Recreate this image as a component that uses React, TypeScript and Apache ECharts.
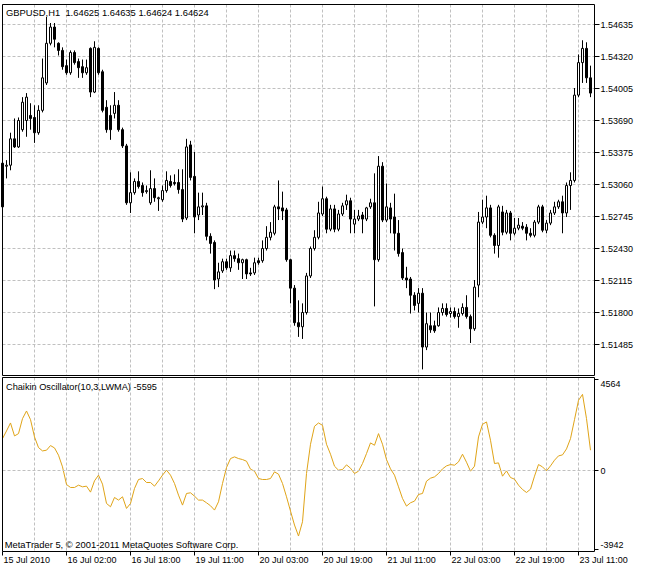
import React, { useEffect, useRef } from 'react';
import * as echarts from 'echarts';

const timeLabels = ['15 Jul 2010', '16 Jul 02:00', '16 Jul 18:00', '19 Jul 11:00', '20 Jul 03:00', '20 Jul 19:00', '21 Jul 11:00', '22 Jul 03:00', '22 Jul 19:00', '23 Jul 11:00'];

const openP = [
  1.5327, 1.5324, 1.5325, 1.5351, 1.5343, 1.5360, 1.5369, 1.5374, 1.5372, 1.5357,
  1.5379, 1.5406, 1.5445, 1.5461, 1.5445, 1.5438, 1.5423, 1.5416, 1.5436, 1.5427,
  1.5422, 1.5416, 1.5440, 1.5397, 1.5440, 1.5417, 1.5382, 1.5374, 1.5376, 1.5384,
  1.5360, 1.5344, 1.5288, 1.5298, 1.5309, 1.5305, 1.5299, 1.5288, 1.5302, 1.5292,
  1.5291, 1.5300, 1.5309, 1.5308, 1.5308, 1.5301, 1.5273, 1.5345, 1.5314, 1.5276,
  1.5284, 1.5285, 1.5255, 1.5249, 1.5213, 1.5221, 1.5230, 1.5224, 1.5236, 1.5233,
  1.5229, 1.5232, 1.5219, 1.5219, 1.5231, 1.5231, 1.5243, 1.5254, 1.5258, 1.5284,
  1.5283, 1.5281, 1.5232, 1.5204, 1.5170, 1.5166, 1.5180, 1.5216, 1.5243, 1.5254,
  1.5277, 1.5292, 1.5262, 1.5282, 1.5262, 1.5277, 1.5286, 1.5290, 1.5267, 1.5272,
  1.5276, 1.5272, 1.5284, 1.5288, 1.5232, 1.5324, 1.5271, 1.5283, 1.5274, 1.5258,
  1.5239, 1.5214, 1.5213, 1.5197, 1.5189, 1.5199, 1.5146, 1.5167, 1.5167, 1.5167,
  1.5180, 1.5184, 1.5179, 1.5181, 1.5176, 1.5179, 1.5185, 1.5176, 1.5164, 1.5207,
  1.5269, 1.5274, 1.5283, 1.5256, 1.5246, 1.5279, 1.5259, 1.5278, 1.5258, 1.5263,
  1.5265, 1.5264, 1.5258, 1.5256, 1.5269, 1.5284, 1.5261, 1.5268, 1.5278, 1.5284,
  1.5289, 1.5278, 1.5305, 1.5310, 1.5394, 1.5426, 1.5440, 1.5411
];
const closeP = [
  1.5284, 1.5325, 1.5351, 1.5343, 1.5369, 1.5387, 1.5392, 1.5371, 1.5357, 1.5379,
  1.5411, 1.5445, 1.5461, 1.5449, 1.5438, 1.5422, 1.5416, 1.5436, 1.5426, 1.5421,
  1.5416, 1.5421, 1.5397, 1.5441, 1.5416, 1.5379, 1.5360, 1.5360, 1.5384, 1.5360,
  1.5344, 1.5288, 1.5298, 1.5309, 1.5304, 1.5298, 1.5300, 1.5302, 1.5293, 1.5293,
  1.5300, 1.5310, 1.5305, 1.5307, 1.5301, 1.5272, 1.5343, 1.5313, 1.5274, 1.5284,
  1.5285, 1.5255, 1.5248, 1.5212, 1.5220, 1.5230, 1.5224, 1.5236, 1.5233, 1.5229,
  1.5232, 1.5218, 1.5218, 1.5229, 1.5229, 1.5243, 1.5254, 1.5259, 1.5284, 1.5282,
  1.5280, 1.5232, 1.5204, 1.5170, 1.5166, 1.5180, 1.5216, 1.5243, 1.5254, 1.5278,
  1.5292, 1.5262, 1.5282, 1.5262, 1.5277, 1.5285, 1.5290, 1.5272, 1.5272, 1.5275,
  1.5272, 1.5283, 1.5288, 1.5232, 1.5324, 1.5271, 1.5284, 1.5272, 1.5258, 1.5238,
  1.5214, 1.5212, 1.5197, 1.5187, 1.5199, 1.5146, 1.5169, 1.5163, 1.5162, 1.5180,
  1.5184, 1.5178, 1.5181, 1.5176, 1.5179, 1.5185, 1.5176, 1.5164, 1.5205, 1.5269,
  1.5274, 1.5283, 1.5256, 1.5246, 1.5284, 1.5259, 1.5278, 1.5258, 1.5263, 1.5266,
  1.5263, 1.5258, 1.5256, 1.5269, 1.5284, 1.5261, 1.5268, 1.5278, 1.5284, 1.5289,
  1.5278, 1.5305, 1.5310, 1.5394, 1.5426, 1.5440, 1.5411, 1.5396
];
const lowP = [
  1.5281, 1.5312, 1.5320, 1.5342, 1.5342, 1.5358, 1.5353, 1.5360, 1.5347, 1.5355,
  1.5377, 1.5404, 1.5443, 1.5441, 1.5433, 1.5419, 1.5414, 1.5414, 1.5424, 1.5411,
  1.5411, 1.5414, 1.5392, 1.5396, 1.5414, 1.5377, 1.5357, 1.5350, 1.5371, 1.5358,
  1.5342, 1.5286, 1.5278, 1.5296, 1.5302, 1.5294, 1.5297, 1.5286, 1.5289, 1.5280,
  1.5289, 1.5298, 1.5303, 1.5305, 1.5297, 1.5269, 1.5271, 1.5310, 1.5258, 1.5271,
  1.5276, 1.5251, 1.5238, 1.5203, 1.5205, 1.5219, 1.5222, 1.5220, 1.5230, 1.5222,
  1.5213, 1.5213, 1.5216, 1.5217, 1.5227, 1.5229, 1.5241, 1.5251, 1.5256, 1.5271,
  1.5271, 1.5230, 1.5189, 1.5167, 1.5156, 1.5154, 1.5178, 1.5214, 1.5241, 1.5252,
  1.5275, 1.5258, 1.5260, 1.5259, 1.5260, 1.5275, 1.5281, 1.5258, 1.5258, 1.5270,
  1.5258, 1.5270, 1.5282, 1.5186, 1.5230, 1.5269, 1.5269, 1.5258, 1.5241, 1.5235,
  1.5212, 1.5204, 1.5179, 1.5182, 1.5180, 1.5124, 1.5143, 1.5160, 1.5160, 1.5166,
  1.5177, 1.5176, 1.5175, 1.5174, 1.5165, 1.5177, 1.5174, 1.5150, 1.5162, 1.5195,
  1.5267, 1.5263, 1.5254, 1.5238, 1.5234, 1.5256, 1.5257, 1.5251, 1.5256, 1.5261,
  1.5261, 1.5251, 1.5254, 1.5254, 1.5267, 1.5259, 1.5258, 1.5266, 1.5276, 1.5282,
  1.5258, 1.5274, 1.5281, 1.5308, 1.5392, 1.5406, 1.5406, 1.5392
];
const highP = [
  1.5330, 1.5330, 1.5357, 1.5371, 1.5372, 1.5392, 1.5396, 1.5386, 1.5384, 1.5384,
  1.5430, 1.5471, 1.5465, 1.5465, 1.5446, 1.5441, 1.5429, 1.5438, 1.5438, 1.5430,
  1.5429, 1.5429, 1.5441, 1.5447, 1.5441, 1.5419, 1.5389, 1.5384, 1.5397, 1.5389,
  1.5362, 1.5346, 1.5318, 1.5312, 1.5319, 1.5308, 1.5305, 1.5320, 1.5312, 1.5294,
  1.5305, 1.5319, 1.5315, 1.5316, 1.5321, 1.5321, 1.5351, 1.5349, 1.5338, 1.5298,
  1.5298, 1.5288, 1.5258, 1.5251, 1.5229, 1.5233, 1.5233, 1.5241, 1.5241, 1.5238,
  1.5233, 1.5233, 1.5224, 1.5234, 1.5234, 1.5251, 1.5265, 1.5269, 1.5286, 1.5310,
  1.5299, 1.5283, 1.5233, 1.5207, 1.5192, 1.5189, 1.5219, 1.5245, 1.5261, 1.5289,
  1.5304, 1.5294, 1.5286, 1.5286, 1.5281, 1.5288, 1.5296, 1.5293, 1.5281, 1.5281,
  1.5279, 1.5284, 1.5292, 1.5317, 1.5334, 1.5328, 1.5307, 1.5288, 1.5297, 1.5271,
  1.5243, 1.5225, 1.5215, 1.5200, 1.5204, 1.5204, 1.5180, 1.5180, 1.5172, 1.5185,
  1.5189, 1.5189, 1.5185, 1.5185, 1.5184, 1.5189, 1.5197, 1.5178, 1.5212, 1.5279,
  1.5291, 1.5295, 1.5286, 1.5258, 1.5286, 1.5285, 1.5281, 1.5280, 1.5273, 1.5273,
  1.5269, 1.5267, 1.5263, 1.5271, 1.5286, 1.5286, 1.5271, 1.5281, 1.5289, 1.5291,
  1.5295, 1.5308, 1.5318, 1.5401, 1.5434, 1.5448, 1.5446, 1.5423
];

const chaikin = [
  1600, 1984, 2384, 1734, 1850, 2601, 2984, 2551, 1684, 1150,
  983, 1017, 1250, 1133, 767, 182, -701, -851, -851, -735,
  -818, -785, -1085, -518, -234, -685, -1652, -1819, -1352, -1484,
  -1318, -1902, -1652, -901, -451, -402, -602, -602, -785, -518,
  -234, 16, -234, -651, -1235, -1735, -1152, -1118, -1285, -1484,
  -1484, -1618, -1768, -1985, -1568, -651, 149, 599, 683, 599,
  549, 466, 66, -34, -402, -451, -451, -402, -68, -184,
  -651, -1318, -2035, -2736, -3286, -2569, -151, 1316, 2217, 2384,
  2267, 1316, 816, 216, 16, 50, 283, 116, -151, -34,
  349, 849, 1384, 1266, 1850, 1316, 549, 82, -234, -818,
  -1402, -1785, -1618, -1535, -1202, -1152, -535, -385, -319, -151,
  82, 232, 299, 265, 432, 816, 416, -34, 216, 1684,
  2317, 2434, 1517, 349, 383, -285, -19, -352, -435, -735,
  -952, -1102, -936, -285, 299, 182, -19, 232, 516, 733,
  783, 1083, 1600, 2551, 3518, 3818, 2601, 1017
];

const priceTicks = [1.51485, 1.518, 1.52115, 1.5243, 1.52745, 1.5306, 1.53375, 1.5369, 1.54005, 1.5432, 1.54635];
const oscTicks = [-3942, 0, 4564];
const headerText = 'GBPUSD,H1  1.64625 1.64635 1.64624 1.64624';
const indicatorText = 'Chaikin Oscillator(10,3,LWMA) -5595';
const copyrightText = 'MetaTrader 5, © 2001-2011 MetaQuotes Software Corp.';

const FONT = '"Liberation Sans", Arial, sans-serif';
const GRID_COLOR = '#c0c0c0';
const DASH = [3, 2];

export default function App() {
  const ref = useRef<HTMLDivElement>(null);
  useEffect(() => {
    if (!ref.current) return;
    const chart = echarts.init(ref.current, null, { renderer: 'svg' });
    const n = openP.length;
    const cats = Array.from({ length: n + 1 }, (_, i) => String(i));
    const candles = openP.map((o, i) => [o, closeP[i], lowP[i], highP[i]]);
    const labelFor = (v: string) => {
      const i = Number(v);
      return i % 16 === 0 && timeLabels[i / 16] ? timeLabels[i / 16] : '';
    };
    chart.setOption({
      animation: false,
      backgroundColor: '#ffffff',
      textStyle: { fontFamily: FONT },
      grid: [
        { left: 2.5, top: 4.5, width: 592, height: 371 },
        { left: 2.5, top: 377.5, width: 592, height: 174 },
      ],
      xAxis: [
        {
          type: 'category', gridIndex: 0, data: cats, boundaryGap: false,
          axisLine: { show: false, onZero: false }, axisTick: { show: false }, axisLabel: { show: false },
          splitLine: { show: true, interval: 7, lineStyle: { color: GRID_COLOR, type: DASH, width: 1 } },
        },
        {
          type: 'category', gridIndex: 1, data: cats, boundaryGap: false, position: 'bottom',
          axisLine: { show: false, onZero: false },
          axisTick: { show: true, interval: 15, length: 4, lineStyle: { color: '#000', width: 1 } },
          axisLabel: {
            show: true, interval: 15, formatter: labelFor, align: 'left', margin: 4,
            color: '#000', fontSize: 9, fontFamily: FONT, padding: [0, 0, 0, 1],
          },
          splitLine: { show: true, interval: 7, lineStyle: { color: GRID_COLOR, type: DASH, width: 1 } },
        },
      ],
      yAxis: [
        {
          type: 'value', gridIndex: 0, position: 'right', min: 1.5118, max: 1.54832, scale: true,
          axisLine: { show: false },
          axisTick: { show: true, length: 5, customValues: priceTicks, lineStyle: { color: '#000', width: 1 } },
          axisLabel: {
            show: true, customValues: priceTicks, formatter: (v: number) => v.toFixed(5), margin: 6,
            color: '#000', fontSize: 9, fontFamily: FONT,
          },
          splitLine: { show: true, lineStyle: { color: GRID_COLOR, type: DASH, width: 1 } },
        },
        {
          type: 'value', gridIndex: 1, position: 'right', min: -4062, max: 4664,
          axisLine: { show: false },
          axisTick: { show: true, length: 4, customValues: oscTicks, lineStyle: { color: '#000', width: 1 } },
          axisLabel: {
            show: true, customValues: oscTicks, formatter: (v: number) => String(v), margin: 6,
            color: '#000', fontSize: 9, fontFamily: FONT,
            verticalAlignMinLabel: 'bottom', verticalAlignMaxLabel: 'top',
          },
          splitLine: { show: false },
        },
      ],
      series: [
        {
          type: 'candlestick', xAxisIndex: 0, yAxisIndex: 0, data: candles, barWidth: 3, clip: false,
          itemStyle: { color: '#ffffff', color0: '#000000', borderColor: '#000000', borderColor0: '#000000', borderWidth: 1 },
        },
        {
          type: 'line', xAxisIndex: 1, yAxisIndex: 1, data: chaikin, showSymbol: false, symbol: 'none',
          lineStyle: { color: '#e0a418', width: 1 },
          markLine: {
            silent: true, symbol: ['none', 'none'], label: { show: false },
            lineStyle: { color: GRID_COLOR, type: DASH, width: 1 },
            data: [{ yAxis: 0 }],
          },
        },
      ],
      graphic: [
        { type: 'rect', shape: { x: 2.5, y: 4.5, width: 592, height: 371 }, style: { fill: 'none', stroke: '#000', lineWidth: 1 }, z: 100, silent: true },
        { type: 'rect', shape: { x: 2.5, y: 377.5, width: 592, height: 174 }, style: { fill: 'none', stroke: '#000', lineWidth: 1 }, z: 100, silent: true },
        { type: 'text', x: 6, y: 12, style: { text: headerText, fill: '#000', font: `9.4px ${FONT}`, verticalAlign: 'middle' }, z: 101, silent: true },
        { type: 'text', x: 6, y: 386.7, style: { text: indicatorText, fill: '#000', font: `9.2px ${FONT}`, verticalAlign: 'middle' }, z: 101, silent: true },
        { type: 'text', x: 4.7, y: 544, style: { text: copyrightText, fill: '#000', font: `9.4px ${FONT}`, verticalAlign: 'middle' }, z: 101, silent: true },
      ],
    });
    return () => chart.dispose();
  }, []);
  return <div ref={ref} style={{ position: 'absolute', left: 0, top: 0, width: 647, height: 572, background: '#fff' }} />;
}
